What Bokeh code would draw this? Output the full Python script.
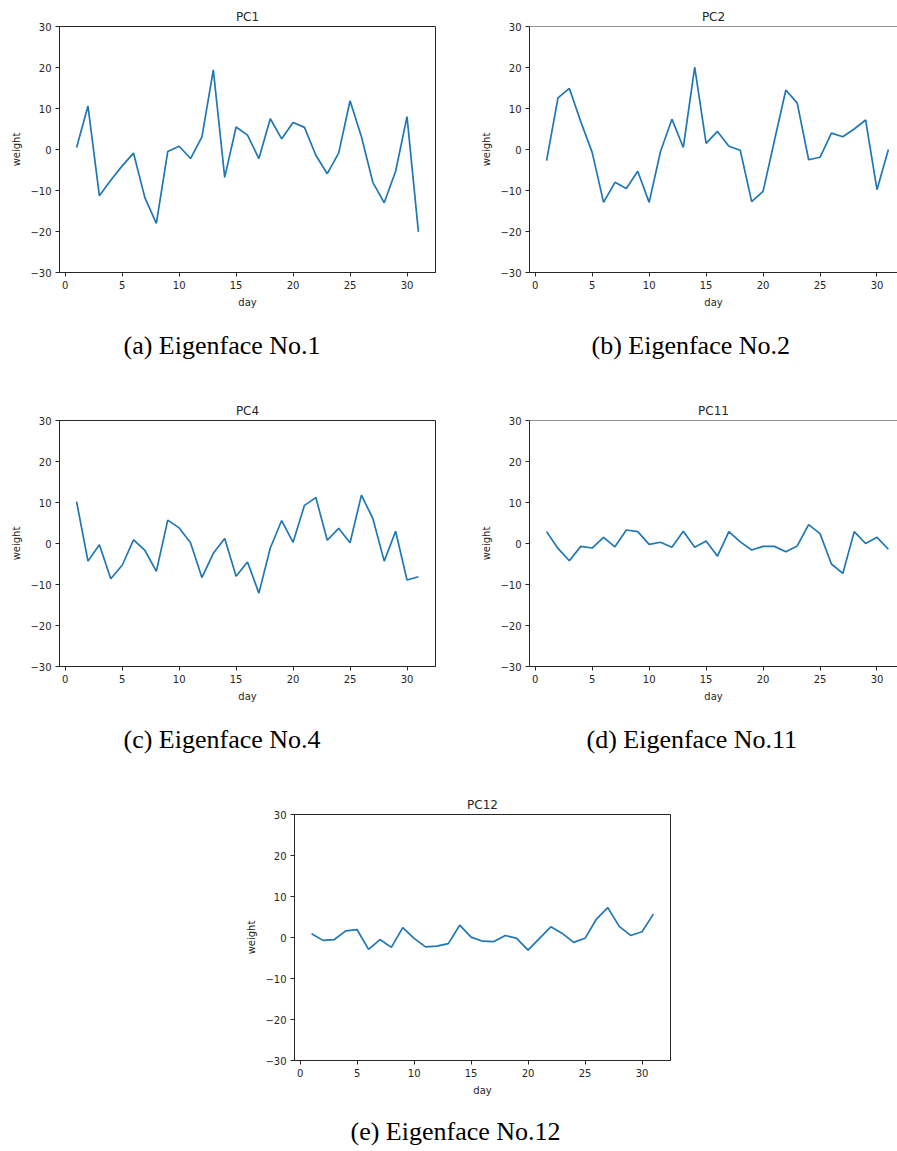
from bokeh.plotting import figure
from bokeh.models import Span, FixedTicker, Title
from bokeh.layouts import column, row
from bokeh.embed import file_html
from bokeh.resources import INLINE

days = list(range(1, 32))

pc1 = [0.5, 10.6, -11.3, -7.5, -4.0, -0.9, -11.8, -18.0, -0.5, 0.8, -2.2, 3.1, 19.4, -6.8, 5.5, 3.5,
       -2.2, 7.5, 2.6, 6.6, 5.4, -1.4, -5.9, -0.9, 11.9, 3.1, -8.0, -13.0, -5.3, 8.0, -20.1]
pc2 = [-2.7, 12.6, 14.9, 6.8, -0.7, -12.9, -8.0, -9.5, -5.3, -12.9, -0.5, 7.4, 0.5, 20.1, 1.5, 4.4,
       0.8, -0.2, -12.7, -10.2, 2.2, 14.5, 11.3, -2.5, -1.9, 4.0, 3.1, 5.0, 7.2, -9.8, 0.0]
pc4 = [10.2, -4.3, -0.3, -8.6, -5.3, 0.9, -1.7, -6.8, 5.7, 3.8, 0.2, -8.3, -2.4, 1.2, -8.0, -4.5,
       -12.1, -1.1, 5.6, 0.3, 9.3, 11.2, 0.8, 3.7, 0.2, 11.8, 6.1, -4.3, 3.0, -8.9, -8.1]
pc11 = [2.9, -1.2, -4.2, -0.7, -1.1, 1.5, -0.8, 3.3, 2.9, -0.2, 0.3, -0.9, 3.0, -0.9, 0.6, -3.1,
        2.9, 0.4, -1.6, -0.7, -0.7, -2.0, -0.6, 4.6, 2.4, -5.0, -7.3, 2.9, 0.0, 1.5, -1.4]
pc12 = [0.9, -0.7, -0.5, 1.6, 1.9, -2.9, -0.5, -2.4, 2.4, -0.2, -2.3, -2.1, -1.5, 3.0, 0.1, -0.9,
        -1.0, 0.5, -0.2, -3.1, -0.2, 2.6, 1.0, -1.2, -0.2, 4.5, 7.3, 2.7, 0.5, 1.4, 5.7]

titles = ["PC1", "PC2", "PC4", "PC11", "PC12"]
captions = ["(a) Eigenface No.1", "(b) Eigenface No.2", "(c) Eigenface No.4",
            "(d) Eigenface No.11", "(e) Eigenface No.12"]
x_ticks = [0, 5, 10, 15, 20, 25, 30]
y_ticks = [-30, -20, -10, 0, 10, 20, 30]
y_tick_text = {-30: "\u221230", -20: "\u221220", -10: "\u221210", 0: "0", 10: "10", 20: "20", 30: "30"}

FRAME_H = 246
TOP = 26
TEXT = "#262626"
SPINE = "#262626"


def style_caption(t, text, offset, standoff):
    t.text = text
    t.align = "left"
    t.offset = offset
    t.vertical_align = "bottom"
    t.text_font = "Liberation Serif"
    t.text_font_size = "26px"
    t.text_font_style = "normal"
    t.text_color = "black"
    t.standoff = standoff


def make_panel(title, caption, values, left, right, width, height, x_end, clipped,
               cap_left=0, cap_standoff=0):
    p = figure(width=width, height=height, x_range=(-0.5, x_end), y_range=(-30, 30),
               output_backend="svg", toolbar_location=None,
               min_border_left=left, min_border_right=right, min_border_top=TOP,
               min_border_bottom=height - TOP - FRAME_H)
    p.line(days, values, line_color="#1f77b4", line_width=1.7)
    p.xgrid.visible = False
    p.ygrid.visible = False
    p.xaxis.ticker = FixedTicker(ticks=x_ticks)
    p.yaxis.ticker = FixedTicker(ticks=y_ticks)
    p.yaxis.major_label_overrides = y_tick_text
    p.xaxis.axis_label = "day"
    p.yaxis.axis_label = "weight"
    for ax in (p.xaxis[0], p.yaxis[0]):
        ax.axis_line_color = SPINE
        ax.major_tick_line_color = SPINE
        ax.major_tick_out = 4
        ax.major_tick_in = 0
        ax.minor_tick_out = 0
        ax.minor_tick_in = 0
        ax.major_label_text_font = "DejaVu Sans"
        ax.major_label_text_font_size = "10px"
        ax.major_label_text_color = TEXT
        ax.major_label_standoff = 4
        ax.axis_label_text_font = "DejaVu Sans"
        ax.axis_label_text_font_size = "10px"
        ax.axis_label_text_font_style = "normal"
        ax.axis_label_text_color = TEXT
        ax.axis_label_standoff = 5
    if clipped:
        p.outline_line_color = None
        p.add_layout(Span(location=30, dimension="width", line_color=SPINE, line_width=1))
    else:
        p.outline_line_color = SPINE
    p.title.text = title
    p.title.align = "center"
    p.title.text_font = "DejaVu Sans"
    p.title.text_font_size = "12px"
    p.title.text_font_style = "normal"
    p.title.text_color = TEXT
    p.title.standoff = 6
    if caption:
        cap = Title()
        style_caption(cap, caption, cap_left, cap_standoff)
        p.add_layout(cap, "below")
    return p


f1 = make_panel(titles[0], captions[0], pc1, 59, 15, 450, 394, 32.5, False, 64, 36)
f2 = make_panel(titles[1], captions[1], pc2, 79, 0, 447, 394, 31.8, True, 62, 36)
f3 = make_panel(titles[2], captions[2], pc4, 59, 15, 450, 394, 32.5, False, 64, 36)
f4 = make_panel(titles[3], captions[3], pc11, 79, 0, 447, 394, 31.8, True, 57, 36)
f5 = make_panel(titles[4], None, pc12, 294, 15, 685, 323, 32.5, False)

# caption strip for the last panel
cap5 = figure(width=897, height=40, x_axis_type=None, y_axis_type=None,
              output_backend="svg", toolbar_location=None,
              min_border_left=0, min_border_right=0, min_border_top=0, min_border_bottom=0)
cap5.outline_line_color = None
cap5.xgrid.visible = False
cap5.ygrid.visible = False
style_caption(cap5.title, captions[4], 56, 6)

layout = column(row(f1, f2), row(f3, f4), f5, cap5)

open("out.html", "w").write(file_html(layout, INLINE))
